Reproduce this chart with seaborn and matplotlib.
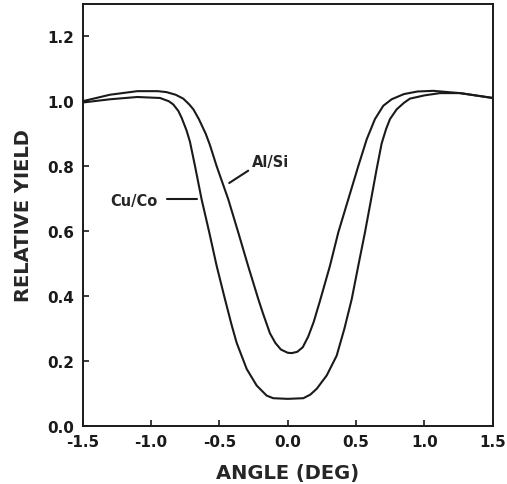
import matplotlib
matplotlib.use("Agg")
import matplotlib.pyplot as plt
import seaborn as sns
import pandas as pd

# Al/Si (inner, shallower dip)
alsi_angle = [-1.5, -1.3, -1.1, -0.95, -0.886, -0.82, -0.764, -0.72, -0.69, -0.65, -0.60,
              -0.569, -0.52, -0.435, -0.362, -0.29, -0.215, -0.18, -0.13, -0.09, -0.05,
              0.0, 0.03, 0.07, 0.11, 0.15, 0.19, 0.236, 0.309, 0.37, 0.443, 0.516,
              0.578, 0.638, 0.699, 0.76, 0.85, 0.95, 1.065, 1.26, 1.5]
alsi_yield = [1.00, 1.02, 1.031, 1.031, 1.028, 1.02, 1.008, 0.99, 0.975, 0.945, 0.90,
              0.865, 0.80, 0.698, 0.596, 0.493, 0.39, 0.345, 0.285, 0.255, 0.235,
              0.225, 0.224, 0.228, 0.242, 0.275, 0.32, 0.385, 0.493, 0.596, 0.698, 0.80,
              0.883, 0.945, 0.986, 1.006, 1.022, 1.03, 1.032, 1.025, 1.01]

# Cu/Co (outer, deeper dip)
cuco_angle = [-1.5, -1.3, -1.1, -0.934, -0.87, -0.837, -0.80, -0.776, -0.74, -0.715,
              -0.678, -0.63, -0.574, -0.52, -0.459, -0.41, -0.373, -0.30, -0.227, -0.154,
              -0.106, 0.0, 0.114, 0.165, 0.212, 0.285, 0.358, 0.415, 0.468, 0.516, 0.565,
              0.61, 0.65, 0.687, 0.72, 0.748, 0.797, 0.85, 0.894, 1.0, 1.114, 1.26, 1.5]
cuco_yield = [0.996, 1.006, 1.013, 1.01, 1.0, 0.99, 0.97, 0.949, 0.91, 0.875,
              0.80, 0.698, 0.596, 0.493, 0.39, 0.31, 0.255, 0.175, 0.124, 0.093,
              0.085, 0.083, 0.085, 0.096, 0.114, 0.155, 0.216, 0.30, 0.39, 0.493, 0.596,
              0.698, 0.79, 0.87, 0.915, 0.945, 0.975, 0.995, 1.008, 1.018, 1.025, 1.025, 1.01]

x_ticks = [-1.5, -1.0, -0.5, 0.0, 0.5, 1.0, 1.5]
x_ticklabels = ["-1.5", "-1.0", "-0.5", "0.0", "0.5", "1.0", "1.5"]
y_ticks = [0.0, 0.2, 0.4, 0.6, 0.8, 1.0, 1.2]
y_ticklabels = ["0.0", "0.2", "0.4", "0.6", "0.8", "1.0", "1.2"]

df = pd.concat([
    pd.DataFrame({"angle": alsi_angle, "yield": alsi_yield, "sample": "Al/Si"}),
    pd.DataFrame({"angle": cuco_angle, "yield": cuco_yield, "sample": "Cu/Co"}),
])

sns.set_style("ticks")
plt.rcParams["font.family"] = ["DejaVu Sans"]

fig = plt.figure(figsize=(5.07, 4.85), dpi=100)
ax = fig.add_axes([0.163, 0.12, 0.809, 0.87])

sns.lineplot(data=df, x="angle", y="yield", units="sample", estimator=None,
             color="#1a1a1a", lw=1.5, sort=False, ax=ax, legend=False)

ax.set_xlim(-1.5, 1.5)
ax.set_ylim(0.0, 1.3)
ax.set_xticks(x_ticks)
ax.set_xticklabels(x_ticklabels, fontsize=11, fontweight="bold")
ax.set_yticks(y_ticks)
ax.set_yticklabels(y_ticklabels, fontsize=11, fontweight="bold")
ax.tick_params(direction="in", length=4, width=1.2, colors="#1a1a1a", pad=6)
for s in ax.spines.values():
    s.set_linewidth(1.4)
    s.set_color("#1a1a1a")

ax.set_xlabel("ANGLE (DEG)", fontsize=14, fontweight="bold", labelpad=10)
ax.set_ylabel("RELATIVE YIELD", fontsize=14, fontweight="bold", labelpad=10)

ax.text(-0.956, 0.693, "Cu/Co", fontsize=10.5, fontweight="bold", ha="right", va="center")
ax.plot([-0.886, -0.666], [0.698, 0.698], color="#1a1a1a", lw=1.5)
ax.text(-0.26, 0.815, "Al/Si", fontsize=10.5, fontweight="bold", ha="left", va="center")
ax.plot([-0.428, -0.289], [0.748, 0.786], color="#1a1a1a", lw=1.5)

fig.savefig("out.png", dpi=100)
